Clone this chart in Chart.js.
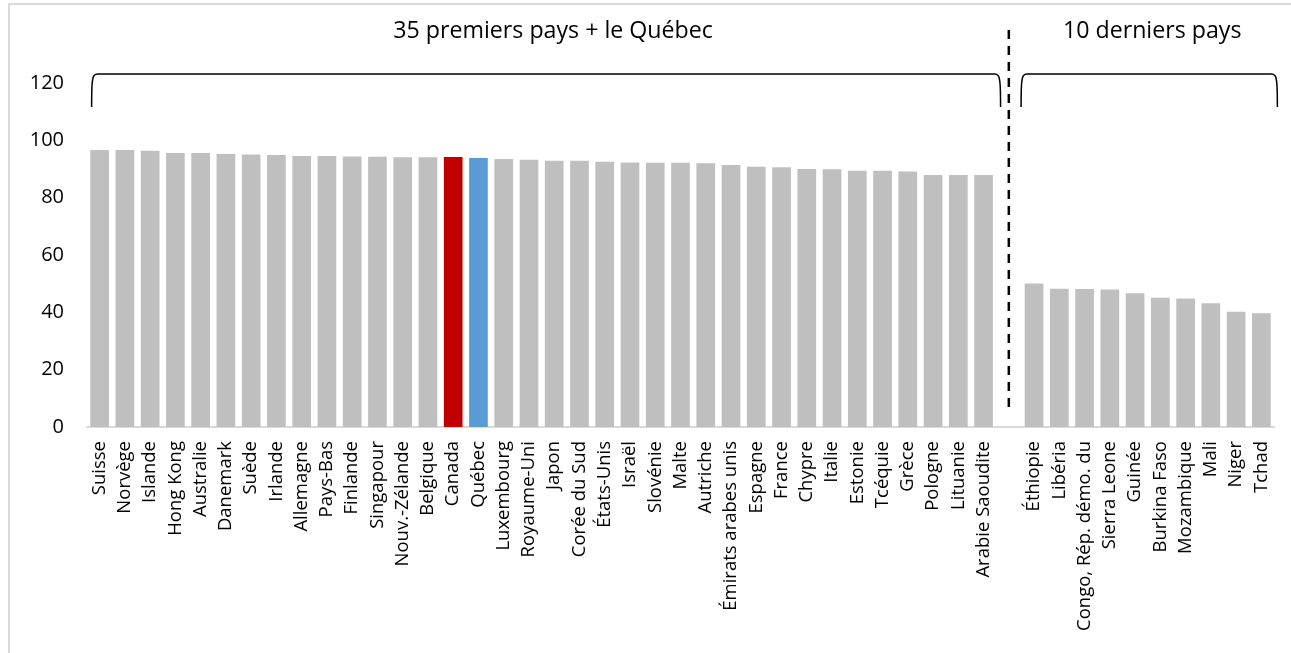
<!DOCTYPE html>
<html>
<head>
<meta charset="utf-8">
<script src="https://cdn.jsdelivr.net/npm/chart.js@4/dist/chart.umd.min.js"></script>
<style>
html,body{margin:0;padding:0;background:#fff;}
#wrap{width:1291px;height:653px;position:relative;}
</style>
</head>
<body>
<div id="wrap"><canvas id="c" width="1291" height="653"></canvas></div>
<script>
const categories = [
  "Suisse","Norvège","Islande","Hong Kong","Australie","Danemark","Suède","Irlande",
  "Allemagne","Pays-Bas","Finlande","Singapour","Nouv.-Zélande","Belgique","Canada","Québec",
  "Luxembourg","Royaume-Uni","Japon","Corée du Sud","États-Unis","Israël","Slovénie","Malte",
  "Autriche","Émirats arabes unis","Espagne","France","Chypre","Italie","Estonie","Tcéquie",
  "Grèce","Pologne","Lituanie","Arabie Saoudite",
  "",
  "Éthiopie","Libéria","Congo, Rép. démo. du","Sierra Leone","Guinée","Burkina Faso",
  "Mozambique","Mali","Niger","Tchad"
];
const values = [
  96.6,96.6,96.4,95.6,95.6,95.2,95.1,94.9,
  94.5,94.5,94.4,94.3,94.1,94.1,94.2,93.8,
  93.5,93.2,92.9,92.9,92.5,92.3,92.2,92.2,
  92.0,91.4,90.8,90.6,90.0,89.9,89.4,89.4,
  89.1,87.9,87.9,87.9,
  null,
  50.1,48.2,48.1,48.0,46.7,45.1,44.8,43.2,40.2,39.7
];
const yTicks = [0,20,40,60,80,100,120];
const groupTitles = ["35 premiers pays + le Québec","10 derniers pays"];
const gapIndex = 36;

const barColors = categories.map(c => c === "Canada" ? "#c00000" : (c === "Québec" ? "#5b9bd5" : "#bfbfbf"));
const FONT = "'Open Sans'";

function bracket(ctx, x1, x2, yTop, yBot){
  const r = 6;
  ctx.beginPath();
  ctx.moveTo(x1, yBot);
  ctx.quadraticCurveTo(x1, yTop + r + 4, x1 + 1, yTop + r);
  ctx.quadraticCurveTo(x1 + 1.5, yTop, x1 + r, yTop);
  ctx.lineTo(x2 - r, yTop);
  ctx.quadraticCurveTo(x2 - 1.5, yTop, x2 - 1, yTop + r);
  ctx.quadraticCurveTo(x2, yTop + r + 4, x2, yBot);
  ctx.stroke();
}

const deco = {
  id: "deco",
  afterDraw(chart){
    const ctx = chart.ctx;
    const xs = chart.scales.x;
    const area = chart.chartArea;
    ctx.save();
    ctx.strokeStyle = "#d9d9d9";
    ctx.lineWidth = 2;
    ctx.beginPath();
    ctx.moveTo(9, 653);
    ctx.lineTo(9, 4);
    ctx.lineTo(1291, 4);
    ctx.stroke();
    const xg = xs.getPixelForValue(gapIndex);
    ctx.strokeStyle = "#000";
    ctx.lineWidth = 2.5;
    ctx.setLineDash([9, 7]);
    ctx.beginPath();
    ctx.moveTo(xg, 30);
    ctx.lineTo(xg, area.bottom - 13);
    ctx.stroke();
    ctx.setLineDash([]);
    ctx.lineWidth = 1.5;
    const yTop = area.top - 9, yBot = area.top + 24;
    const l1 = xs.getPixelForValue(0) - 8, r1 = xs.getPixelForValue(gapIndex - 1) + 17;
    const l2 = xs.getPixelForValue(gapIndex + 1) - 13, r2 = xs.getPixelForValue(categories.length - 1) + 16;
    bracket(ctx, l1, r1, yTop, yBot);
    bracket(ctx, l2, r2, yTop, yBot);
    ctx.fillStyle = "#000";
    ctx.font = "23.2px " + FONT;
    ctx.textAlign = "center";
    ctx.textBaseline = "alphabetic";
    ctx.fillText(groupTitles[0], (l1 + r1) / 2 + 7, 37.5);
    ctx.fillText(groupTitles[1], (l2 + r2) / 2 + 3, 38);
    ctx.restore();
  }
};

new Chart(document.getElementById("c").getContext("2d"), {
  type: "bar",
  data: {
    labels: categories,
    datasets: [{
      data: values,
      backgroundColor: barColors,
      borderWidth: 0,
      barPercentage: 0.74,
      categoryPercentage: 1.0
    }]
  },
  options: {
    responsive: false,
    animation: false,
    events: [],
    layout: { padding: { left: 9, right: 17, top: 83, bottom: 0 } },
    plugins: { legend: { display: false }, tooltip: { enabled: false } },
    scales: {
      x: {
        afterFit(scale){ scale.height = 226; scale.paddingLeft = 0; scale.paddingRight = 0; },
        grid: { display: false, drawTicks: false },
        border: { display: true, color: "#d9d9d9", width: 2 },
        ticks: {
          autoSkip: false, minRotation: 90, maxRotation: 90, padding: 14,
          color: "#000", font: { family: FONT, size: 18.5 }
        }
      },
      y: {
        min: yTicks[0], max: yTicks[yTicks.length - 1],
        afterBuildTicks(scale){ scale.ticks = yTicks.map(v => ({ value: v })); },
        afterFit(scale){ scale.width = 78; },
        grid: { display: false, drawTicks: false },
        border: { display: false },
        ticks: { padding: 23, color: "#000", font: { family: FONT, size: 20 } }
      }
    }
  },
  plugins: [deco]
});
</script>
</body>
</html>
